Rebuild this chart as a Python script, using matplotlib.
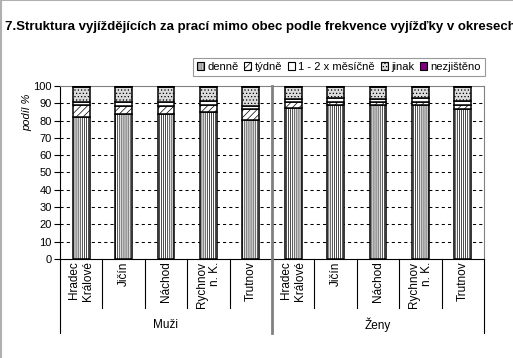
import numpy as np
import matplotlib
matplotlib.use("Agg")
import matplotlib.pyplot as plt
import matplotlib.transforms as mtransforms
from matplotlib.patches import Patch
from matplotlib.lines import Line2D

plt.rcParams['font.family'] = ['Liberation Sans', 'DejaVu Sans']
plt.rcParams['hatch.linewidth'] = 0.5

# data (shares in %)
districts = ['Hradec\nKrálové', 'Jičín', 'Náchod', 'Rychnov\nn. K.', 'Trutnov']
groups = ['Muži', 'Ženy']
series = ['denně', 'týdně', '1 - 2 x měsíčně', 'jinak', 'nezjištěno']

denne = [81.9, 84.0, 84.0, 85.2, 80.3, 87.3, 88.8, 88.8, 89.0, 86.7]
tydne = [7.1, 4.6, 4.6, 3.8, 6.2, 3.6, 2.0, 2.1, 1.8, 2.3]
mesicne = [2.0, 2.2, 2.0, 2.3, 2.1, 1.4, 2.3, 1.4, 2.3, 2.1]
jinak = [8.5, 8.9, 8.9, 8.2, 11.0, 7.3, 6.5, 7.3, 6.5, 8.5]
nezjisteno = [0.5, 0.3, 0.5, 0.5, 0.4, 0.4, 0.4, 0.4, 0.4, 0.4]

values = [denne, tydne, mesicne, jinak, nezjisteno]
fills = ['white', 'white', 'white', '#dcdcdc', '#800080']
hatches = ['||||||||', '/////', None, '.....', None]

W, H = 513, 358
fig = plt.figure(figsize=(W / 100, H / 100), dpi=100)
ax = fig.add_axes([60 / W, 1 - 259 / H, (484 - 60) / W, (259 - 86) / H])

n = len(districts) * len(groups)
x = np.arange(n) + 0.5
bottom = np.zeros(n)
for vals, fc, h in zip(values, fills, hatches):
    ax.bar(x, vals, width=0.4, bottom=bottom, color=fc, edgecolor='black',
           hatch=h, linewidth=1.1, zorder=3)
    bottom += np.array(vals)

ax.set_xlim(0, n)
ax.set_ylim(0, 100)
ax.set_yticks(range(0, 101, 10))
for yv in range(10, 100, 10):
    ax.axhline(yv, color='black', lw=0.75, linestyle=(0, (3, 3)), zorder=1)
ax.set_xticks([])
ax.tick_params(axis='y', length=4, width=0.8, labelsize=8, pad=2)
for s in ['top', 'right']:
    ax.spines[s].set_color('#808080')
ax.spines['left'].set_linewidth(0.8)
ax.spines['bottom'].set_linewidth(0.8)

# category axis below the plot
trans = mtransforms.blended_transform_factory(ax.transData, ax.transAxes)
y_sub = -49 / 173
y_grp = -74 / 173
for k in range(n + 1):
    if k % 5 == 0:
        if k == 5:
            continue
        ax.add_line(Line2D([k, k], [0, y_grp], transform=trans, color='black',
                           lw=0.8, clip_on=False))
    else:
        ax.add_line(Line2D([k, k], [0, y_sub], transform=trans, color='black',
                           lw=0.8, clip_on=False))
ax.add_line(Line2D([5, 5], [1, y_grp], transform=trans, color='#808080',
                   lw=2.0, clip_on=False, zorder=5))

for i in range(n):
    ax.text(x[i], -0.015, districts[i % 5], transform=trans, rotation=90,
            ha='center', va='top', multialignment='right', fontsize=8.5)
for g, name in enumerate(groups):
    ax.text(g * 5 + 2.5, -66 / 173, name, transform=trans, ha='center',
            va='center', fontsize=8.5)

fig.text(27 / W, 1 - 112 / H, 'podíl %', rotation=90, style='italic',
         ha='center', va='center', fontsize=8)

fig.text(5 / W, 1 - 27 / H,
         '7.Struktura vyjíždějících za prací mimo obec podle frekvence vyjížďky v okresech',
         fontsize=9.5, fontweight='bold', ha='left', va='center')

handles = [Patch(facecolor=fc, edgecolor='black', hatch=h, linewidth=0.8)
           for fc, h in zip(fills, hatches)]
leg = fig.legend(handles, series, loc='upper left',
                 bbox_to_anchor=(193 / W, 1 - 58 / H), ncol=5, fontsize=8,
                 frameon=True, fancybox=False, handlelength=0.65,
                 handleheight=0.65, handletextpad=0.3, columnspacing=0.5,
                 borderpad=0.35, borderaxespad=0)
leg.get_frame().set_edgecolor('#808080')
leg.get_frame().set_linewidth(0.8)

fig.add_artist(Line2D([0, 1], [0.999, 0.999], transform=fig.transFigure,
                      color='#b0b0b0', lw=1.5))
fig.add_artist(Line2D([0.001, 0.001], [0, 1], transform=fig.transFigure,
                      color='#b0b0b0', lw=1.5))

fig.savefig('out.png', dpi=100)
